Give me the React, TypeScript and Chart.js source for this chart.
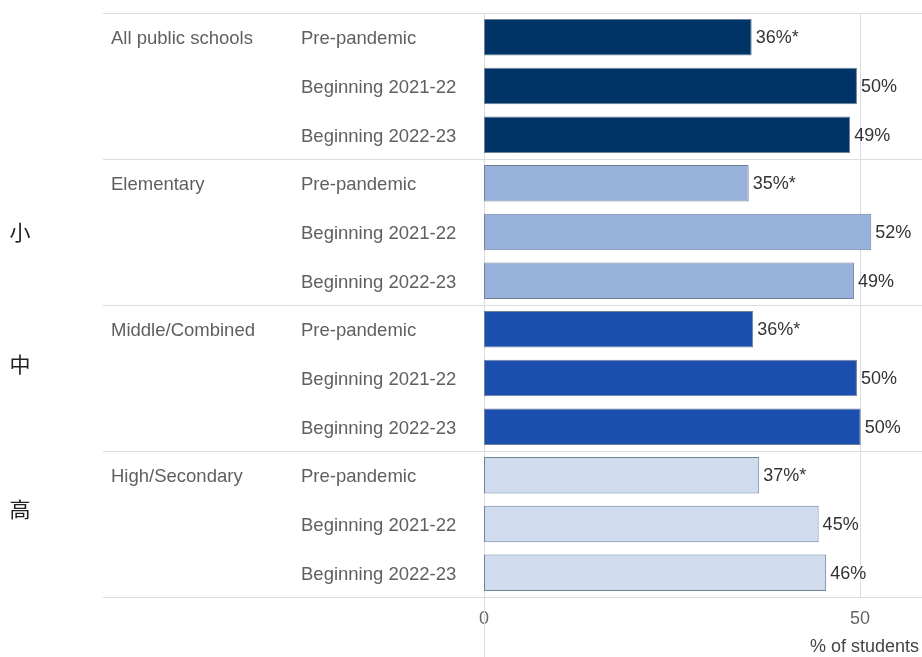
import React, { useEffect, useRef } from "react";
import { Chart, registerables } from "chart.js";

Chart.register(...registerables);

const groups = ["All public schools", "Elementary", "Middle/Combined", "High/Secondary"];
const periods = ["Pre-pandemic", "Beginning 2021-22", "Beginning 2022-23"];
const values = [35.6, 49.6, 48.7, 35.2, 51.5, 49.2, 35.8, 49.6, 50.1, 36.6, 44.5, 45.5];
const valueLabels = ["36%*", "50%", "49%", "35%*", "52%", "49%", "36%*", "50%", "50%", "37%*", "45%", "46%"];
const groupColors = ["#003366", "#98B2DC", "#1C4FAD", "#D0DCEE"];
const cjkLabels = ["", "小", "中", "高"];
const xTicks = [0, 50];
const axisTitle = "% of students";

const FONT = "'Liberation Sans', Arial, sans-serif";

export default function App() {
  const ref = useRef<HTMLCanvasElement | null>(null);

  useEffect(() => {
    const canvas = ref.current;
    if (!canvas) return;
    const labels: string[] = [];
    const colors: string[] = [];
    groups.forEach((_, gi) => {
      periods.forEach((p) => {
        labels.push(p);
        colors.push(groupColors[gi]);
      });
    });

    const decor = {
      id: "decor",
      beforeDatasetsDraw(chart: any) {
        const { ctx, chartArea, scales } = chart;
        const x = scales.x;
        const y = scales.y;
        ctx.save();
        ctx.strokeStyle = "#dcdcdc";
        ctx.lineWidth = 1;
        const seps: number[] = [chartArea.top];
        for (let g = 1; g < groups.length; g++) {
          const i = g * periods.length;
          seps.push((y.getPixelForValue(i - 1) + y.getPixelForValue(i)) / 2);
        }
        seps.push(chartArea.bottom);
        seps.forEach((sy) => {
          const yy = Math.round(sy) + 0.5;
          ctx.beginPath();
          ctx.moveTo(103, yy);
          ctx.lineTo(chart.width, yy);
          ctx.stroke();
        });
        xTicks.forEach((v, i) => {
          const xx = Math.round(x.getPixelForValue(v)) + 0.5;
          ctx.beginPath();
          ctx.moveTo(xx, chartArea.top);
          ctx.lineTo(xx, i === 0 ? chart.height : chartArea.bottom);
          ctx.stroke();
        });
        ctx.restore();
      },
      afterDatasetsDraw(chart: any) {
        const { ctx, scales } = chart;
        const y = scales.y;
        const meta = chart.getDatasetMeta(0);
        ctx.save();
        ctx.font = `18px ${FONT}`;
        ctx.fillStyle = "#333333";
        ctx.textAlign = "left";
        ctx.textBaseline = "middle";
        meta.data.forEach((bar: any, i: number) => {
          ctx.fillText(valueLabels[i], bar.x + 4, bar.y + 1);
        });
        ctx.fillStyle = "#5f5f5f";
        ctx.font = `18.5px ${FONT}`;
        groups.forEach((g, gi) => {
          ctx.fillText(g, 111, y.getPixelForValue(gi * periods.length) + 2);
        });
        const cjkPos = [0, 4, 6.72, 9.7];
        ctx.fillStyle = "#222222";
        ctx.font = `21px 'Noto Sans CJK SC', sans-serif`;
        ctx.textAlign = "center";
        cjkLabels.forEach((t, gi) => {
          if (!t) return;
          const p0 = y.getPixelForValue(0);
          const p1 = y.getPixelForValue(1);
          ctx.fillText(t, 20, p0 + (p1 - p0) * cjkPos[gi]);
        });
        ctx.restore();
      },
    };

    const chart = new Chart(canvas, {
      type: "bar",
      data: {
        labels,
        datasets: [
          {
            data: values,
            backgroundColor: colors,
            borderColor: "#6f829c",
            borderWidth: 1,
            borderSkipped: false,
            barPercentage: 0.75,
            categoryPercentage: 1,
          },
        ],
      },
      options: {
        indexAxis: "y",
        responsive: false,
        animation: false,
        devicePixelRatio: 1,
        layout: { padding: { left: 301, top: 13, right: 3, bottom: 0 } },
        plugins: { legend: { display: false }, tooltip: { enabled: false } },
        scales: {
          x: {
            min: 0,
            max: 57.85,
            grid: { display: false },
            border: { display: false },
            afterFit: (s: any) => {
              s.height = 60;
            },
            afterBuildTicks: (s: any) => {
              s.ticks = xTicks.map((v) => ({ value: v }));
            },
            ticks: {
              stepSize: 50,
              includeBounds: false,
              padding: 3,
              color: "#666666",
              font: { family: FONT, size: 18 },
              maxRotation: 0,
            },
            title: {
              display: true,
              text: axisTitle,
              align: "end",
              color: "#444444",
              font: { family: FONT, size: 18 },
              padding: { top: 0, bottom: -1 },
            },
          },
          y: {
            grid: { display: false },
            border: { display: false },
            afterFit: (s: any) => {
              s.width = 183;
            },
            ticks: {
              crossAlign: "far",
              color: "#5f5f5f",
              font: { family: FONT, size: 18.5 },
              padding: 0,
              labelOffset: 2,
            },
          },
        },
      },
      plugins: [decor],
    } as any);

    return () => chart.destroy();
  }, []);

  return (
    <div style={{ position: "absolute", left: 0, top: 0, width: 922, height: 657 }}>
      <canvas ref={ref} width={922} height={657} style={{ display: "block", width: 922, height: 657 }} />
    </div>
  );
}
